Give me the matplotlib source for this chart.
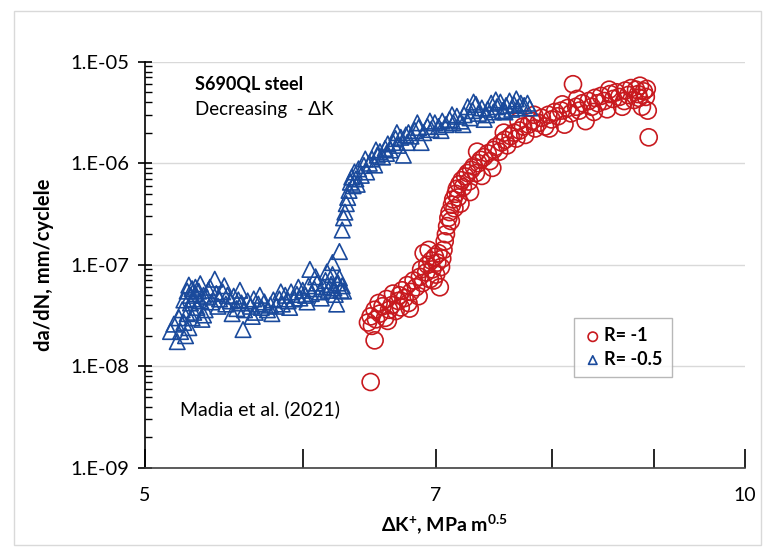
import math
import matplotlib
matplotlib.use("Agg")
import matplotlib.pyplot as plt
from matplotlib.ticker import FixedLocator, FuncFormatter, LogLocator, NullFormatter
from matplotlib.patches import Rectangle

# Fuentes y estilo
plt.rcParams.update({
    "font.family": ["Lato", "DejaVu Sans"],
    "mathtext.default": "regular",
})

# Datos R = -0.5 (triangulos azules)
dk_r05 = [5.15, 5.17, 5.19, 5.20, 5.21, 5.22, 5.23, 5.23, 5.24, 5.25, 5.25, 5.26, 5.27, 5.27,
          5.28, 5.28, 5.29, 5.30, 5.30, 5.31, 5.32, 5.33, 5.34, 5.35, 5.36, 5.37, 5.38, 5.40,
          5.42, 5.43, 5.45, 5.47, 5.49, 5.50, 5.52, 5.54, 5.56, 5.57, 5.59, 5.60, 5.61, 5.63,
          5.65, 5.67, 5.68, 5.70, 5.72, 5.74, 5.76, 5.78, 5.80, 5.82, 5.84, 5.86, 5.88, 5.90,
          5.92, 5.94, 5.96, 5.98, 6.00, 6.02, 6.04, 6.05, 6.06, 6.08, 6.10, 6.12, 6.14, 6.16,
          6.18, 6.20, 6.21, 6.21, 6.22, 6.24, 6.25, 6.26, 6.27, 6.28, 6.29,
          6.26, 6.28, 6.29, 6.30, 6.31, 6.32, 6.33, 6.34, 6.35, 6.36, 6.37, 6.38, 6.40, 6.42,
          6.44, 6.46, 6.48, 6.50, 6.52, 6.54, 6.56, 6.58, 6.60, 6.62, 6.64, 6.66, 6.68, 6.70,
          6.72, 6.74, 6.76, 6.78, 6.80, 6.83, 6.86, 6.88, 6.90, 6.93, 6.96, 6.99, 7.02, 7.05,
          7.08, 7.11, 7.14, 7.17, 7.20, 7.23, 7.26, 7.28, 7.30, 7.33, 7.35, 7.38, 7.40, 7.43,
          7.46, 7.48, 7.51, 7.54, 7.56, 7.59, 7.62, 7.64, 7.66, 7.69, 7.72, 7.75,
          5.26, 5.29, 5.33, 5.35, 5.39, 5.44, 5.48, 5.53, 5.58, 5.66, 5.71, 5.79, 5.85, 5.91,
          5.97, 6.03, 6.09, 6.13, 6.17, 6.23,
          6.39, 6.45, 6.53, 6.61, 6.69, 6.77, 6.85, 6.95, 7.04, 7.13, 7.22, 7.31, 7.42, 7.50,
          7.58, 7.68, 7.78, 7.80]
dadn_r05 = [2.2e-8, 2.6e-8, 1.75e-8, 3.0e-8, 2.2e-8, 3.6e-8, 2.7e-8, 4.5e-8, 2.0e-8, 5.5e-8,
            3.3e-8, 6.3e-8, 4.2e-8, 5.0e-8, 5.8e-8, 3.0e-8, 4.6e-8, 6.0e-8, 5.2e-8, 3.8e-8,
            5.5e-8, 4.4e-8, 2.9e-8, 5.0e-8, 3.6e-8, 4.8e-8, 5.6e-8, 4.3e-8, 7.2e-8, 5.2e-8,
            4.6e-8, 5.4e-8, 4.1e-8, 5.0e-8, 4.4e-8, 4.9e-8, 3.7e-8, 4.5e-8, 4.2e-8, 2.3e-8,
            3.6e-8, 4.4e-8, 3.9e-8, 4.6e-8, 3.4e-8, 4.1e-8, 3.8e-8, 4.3e-8, 3.6e-8, 4.0e-8,
            4.5e-8, 3.9e-8, 4.6e-8, 4.1e-8, 5.0e-8, 4.4e-8, 5.4e-8, 4.6e-8, 5.1e-8, 4.7e-8,
            5.6e-8, 5.0e-8, 6.2e-8, 9.0e-8, 5.2e-8, 5.8e-8, 6.6e-8, 5.4e-8, 6.1e-8, 7.0e-8,
            5.6e-8, 6.4e-8, 8.0e-8, 1.05e-7, 5.9e-8, 4.1e-8, 6.6e-8, 7.4e-8, 5.6e-8, 6.2e-8, 5.5e-8,
            1.35e-7, 2.2e-7, 2.9e-7, 3.3e-7, 4.0e-7, 4.6e-7, 5.4e-7, 6.5e-7, 7.3e-7, 6.0e-7,
            8.2e-7, 7.0e-7, 8.8e-7, 7.6e-7, 9.5e-7, 8.2e-7, 1.0e-6, 1.1e-6, 9.6e-7, 1.2e-6,
            1.3e-6, 1.15e-6, 1.4e-6, 1.55e-6, 1.35e-6, 1.6e-6, 1.75e-6, 1.5e-6, 1.8e-6, 1.2e-6,
            1.9e-6, 2.0e-6, 1.85e-6, 2.1e-6, 2.25e-6, 1.6e-6, 2.0e-6, 2.3e-6, 2.15e-6, 2.5e-6,
            2.3e-6, 2.6e-6, 2.4e-6, 2.7e-6, 2.5e-6, 2.9e-6, 2.6e-6, 3.0e-6, 3.6e-6, 2.8e-6,
            3.3e-6, 3.8e-6, 3.1e-6, 3.5e-6, 2.7e-6, 3.4e-6, 3.9e-6, 3.2e-6, 3.6e-6, 4.0e-6,
            3.3e-6, 3.7e-6, 4.1e-6, 3.4e-6, 3.8e-6, 3.5e-6, 3.9e-6, 3.7e-6,
            2.4e-8, 3.4e-8, 6.5e-8, 3.2e-8, 6.0e-8, 3.9e-8, 6.2e-8, 3.3e-8, 5.6e-8, 3.1e-8,
            5.0e-8, 3.3e-8, 5.4e-8, 3.8e-8, 6.0e-8, 4.3e-8, 7.6e-8, 4.7e-8, 8.5e-8, 5.1e-8,
            6.2e-7, 1.1e-6, 1.35e-6, 1.25e-6, 2.0e-6, 1.6e-6, 2.5e-6, 2.6e-6, 2.1e-6, 3.0e-6,
            2.4e-6, 4.0e-6, 3.0e-6, 4.2e-6, 3.2e-6, 4.3e-6, 3.9e-6, 3.5e-6]

# Datos R = -1 (circulos rojos)
dk_r1 = [6.49, 6.52, 6.47, 6.49, 6.50, 6.52, 6.53, 6.55, 6.56, 6.58, 6.60, 6.61, 6.63, 6.65,
         6.66, 6.68, 6.70, 6.72, 6.73, 6.75, 6.77, 6.78, 6.80, 6.82, 6.84, 6.86, 6.87, 6.89,
         6.90, 6.92, 6.93, 6.95, 6.96, 6.97, 6.99, 7.00, 7.01, 7.02, 7.03, 7.04, 7.05, 7.07,
         7.08, 7.09, 7.10, 7.11, 7.12, 7.13, 7.14, 7.15, 7.16, 7.17, 7.18, 7.19, 7.21, 7.22,
         7.24, 7.26, 7.27, 7.29, 7.31, 7.33, 7.35, 7.37, 7.38, 7.40, 7.43, 7.45, 7.48, 7.50,
         7.53, 7.55, 7.58, 7.60, 7.63, 7.66, 7.68, 7.71, 7.74, 7.76, 7.79, 7.82, 7.85, 7.88,
         7.91, 7.94, 7.97, 8.00, 8.03, 8.06, 8.09, 8.12, 8.15, 8.18, 8.20, 8.23, 8.26, 8.29,
         8.32, 8.35, 8.38, 8.41, 8.44, 8.47, 8.50, 8.53, 8.56, 8.59, 8.62, 8.65, 8.68, 8.71,
         8.74, 8.77, 8.80, 8.82, 8.84, 8.86, 8.88, 8.90, 8.92, 8.94, 8.95,
         6.62, 6.71, 6.79, 6.88, 6.94, 6.98, 7.06, 7.20, 7.28, 7.34, 7.47, 7.57, 7.70, 7.84,
         7.98, 8.10, 8.24, 8.40, 8.55, 8.70, 8.85, 8.93]
dadn_r1 = [7.0e-9, 1.8e-8, 2.7e-8, 3.1e-8, 2.5e-8, 3.6e-8, 2.9e-8, 4.2e-8, 3.3e-8, 3.9e-8,
           3.0e-8, 4.6e-8, 3.6e-8, 4.0e-8, 5.2e-8, 3.5e-8, 4.4e-8, 3.8e-8, 5.6e-8, 4.7e-8,
           6.3e-8, 4.2e-8, 5.4e-8, 7.0e-8, 6.0e-8, 4.9e-8, 7.6e-8, 6.6e-8, 1.3e-7, 8.4e-8,
           1.0e-7, 7.2e-8, 1.1e-7, 9.0e-8, 1.2e-7, 8.0e-8, 1.05e-7, 1.3e-7, 6.0e-8, 9.5e-8,
           1.15e-7, 1.7e-7, 2.0e-7, 2.4e-7, 2.9e-7, 3.3e-7, 2.7e-7, 3.9e-7, 4.4e-7, 3.6e-7,
           5.0e-7, 5.6e-7, 4.6e-7, 6.2e-7, 6.8e-7, 5.8e-7, 7.4e-7, 8.0e-7, 6.6e-7, 8.6e-7,
           9.3e-7, 8.0e-7, 1.0e-6, 1.08e-6, 7.5e-7, 1.15e-6, 1.25e-6, 1.05e-6, 1.35e-6, 1.45e-6,
           1.3e-6, 1.6e-6, 1.7e-6, 1.5e-6, 1.85e-6, 2.0e-6, 1.75e-6, 2.1e-6, 2.3e-6, 1.9e-6,
           2.4e-6, 2.6e-6, 2.2e-6, 2.5e-6, 2.8e-6, 2.3e-6, 3.0e-6, 2.7e-6, 3.2e-6, 2.9e-6,
           3.3e-6, 2.4e-6, 3.5e-6, 3.1e-6, 6.0e-6, 3.6e-6, 3.3e-6, 3.9e-6, 2.6e-6, 4.1e-6,
           3.6e-6, 4.4e-6, 3.9e-6, 4.6e-6, 4.1e-6, 3.4e-6, 4.8e-6, 4.3e-6, 5.0e-6, 4.5e-6,
           3.6e-6, 5.2e-6, 4.7e-6, 5.5e-6, 4.2e-6, 5.3e-6, 4.8e-6, 5.8e-6, 3.6e-6, 5.1e-6,
           4.5e-6, 3.3e-6, 1.8e-6,
           2.8e-8, 5.0e-8, 3.7e-8, 9.0e-8, 1.4e-7, 7.0e-8, 1.4e-7, 4.0e-7, 5.2e-7, 1.3e-6,
           9.0e-7, 2.0e-6, 2.6e-6, 3.0e-6, 2.2e-6, 3.8e-6, 4.3e-6, 3.2e-6, 5.3e-6, 4.1e-6,
           4.4e-6, 5.4e-6]

x_ticks = [5, 6, 7, 8, 9, 10]
x_tick_labels = ["5", "", "7", "", "", "10"]

red = "#C8191E"
blue = "#1A4A9C"

fig = plt.figure(figsize=(7.63, 5.51), dpi=100)
ax = fig.add_axes([0.190, 0.151, 0.786, 0.737])

# Marco exterior gris claro
fig.patches.append(Rectangle((0.018, 0.01), 0.979, 0.97, transform=fig.transFigure,
                             fill=False, edgecolor="#D9D9D9", linewidth=1.0))

ax.scatter(dk_r1, dadn_r1, s=150, marker="o", facecolors="none", edgecolors=red,
           linewidths=1.2, label="R= -1", zorder=3)
ax.scatter(dk_r05, dadn_r05, s=125, marker="^", facecolors="none", edgecolors=blue,
           linewidths=1.2, label="R= -0.5", zorder=3)

ax.set_xscale("log")
ax.set_yscale("log")
ax.set_xlim(5, 10)
ax.set_ylim(1e-9, 1e-5)

# Eje x
ax.xaxis.set_major_locator(FixedLocator(x_ticks))
ax.xaxis.set_minor_locator(FixedLocator([]))
ax.set_xticklabels(x_tick_labels)
ax.xaxis.set_minor_formatter(NullFormatter())
ax.tick_params(axis="x", which="major", direction="in", length=14, width=1.2,
               labelsize=14, pad=14, color="black")

# Eje y
ax.yaxis.set_major_locator(LogLocator(base=10, numticks=10))
ax.yaxis.set_minor_locator(LogLocator(base=10, subs=range(2, 10), numticks=10))
ax.yaxis.set_major_formatter(FuncFormatter(lambda v, p: f"1.E-{abs(round(math.log10(v))):02d}"))
ax.yaxis.set_minor_formatter(NullFormatter())
ax.tick_params(axis="y", which="major", direction="inout", length=10, width=1.2,
               labelsize=14.5, pad=6)
ax.tick_params(axis="y", which="minor", direction="in", length=5, width=1.0)

ax.grid(axis="y", which="major", color="#D9D9D9", linewidth=1.0)
ax.set_axisbelow(True)

for s in ["top", "right"]:
    ax.spines[s].set_visible(False)
ax.spines["left"].set_linewidth(1.2)
ax.spines["bottom"].set_linewidth(1.2)
ax.spines["bottom"].set_color("#404040")

ax.set_ylabel("da/dN, mm/cyclele", fontsize=14.5, fontweight="bold", labelpad=12)
ax.set_xlabel(r"$\Delta$K$^{+}$, MPa m$^{0.5}$", fontsize=14, fontweight="bold", labelpad=6)

# Textos
ax.text(0.083, 0.945, "S690QL steel", transform=ax.transAxes, fontsize=13,
        fontweight="bold", va="center")
ax.text(0.083, 0.883, "Decreasing  - \u0394K", transform=ax.transAxes, fontsize=13.5,
        va="center")
ax.text(0.058, 0.145, "Madia et al. (2021)", transform=ax.transAxes, fontsize=14,
        va="center")

leg = ax.legend(loc="upper left", bbox_to_anchor=(0.70, 0.39), frameon=True,
                fancybox=False, edgecolor="#A6A6A6", fontsize=13, markerscale=0.55,
                handletextpad=0.1, handlelength=1.1, borderpad=0.5, labelspacing=0.35)
for t in leg.get_texts():
    t.set_fontweight("bold")

plt.savefig("out.png", dpi=100)
